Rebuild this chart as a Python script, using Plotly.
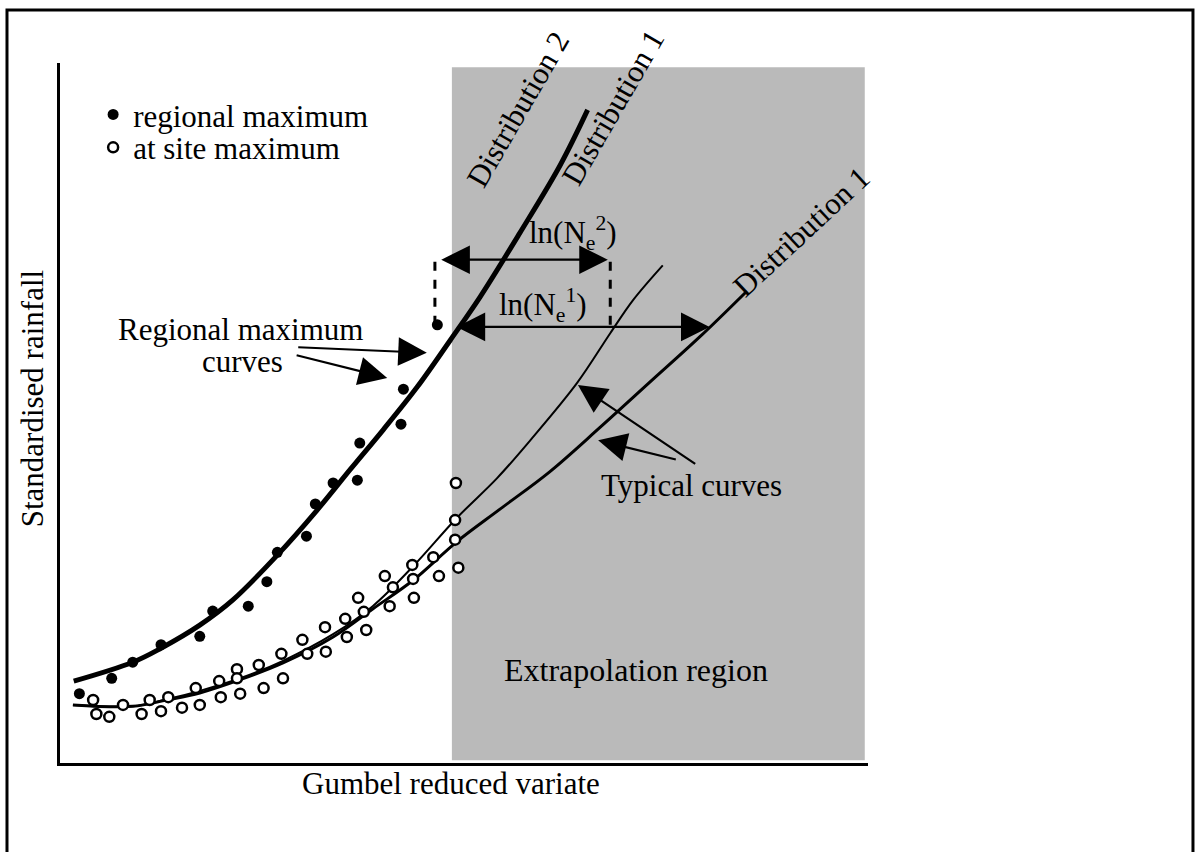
import plotly.graph_objects as go

FONT = "Liberation Serif, Times New Roman, serif"
FS = 31

# ---- data (arbitrary units: Gumbel reduced variate 0-10, standardised rainfall 0-10) ----
reg_x = [0.24, 0.64, 0.90, 1.25, 1.73, 1.89, 2.33, 2.56, 2.69, 3.05, 3.16, 3.38, 3.68, 3.71, 4.22, 4.25, 4.67]
reg_y = [0.99, 1.21, 1.44, 1.69, 1.81, 2.17, 2.24, 2.59, 3.01, 3.24, 3.70, 4.00, 4.04, 4.57, 4.84, 5.34, 6.26]

site_x = [0.41, 0.45, 0.61, 0.78, 1.01, 1.11, 1.25, 1.34, 1.51, 1.68, 1.73, 1.97, 1.99, 2.19, 2.19,
          2.23, 2.46, 2.52, 2.74, 2.76, 3.00, 3.06, 3.28, 3.29, 3.53, 3.55, 3.69, 3.76, 3.79, 4.02,
          4.08, 4.12, 4.36, 4.37, 4.38, 4.62, 4.69, 4.89, 4.89, 4.90, 4.93]
site_y = [0.90, 0.70, 0.66, 0.83, 0.70, 0.90, 0.74, 0.94, 0.79, 1.07, 0.83, 1.17, 0.94, 1.34, 1.21,
          0.99, 1.40, 1.07, 1.56, 1.21, 1.76, 1.56, 1.94, 1.59, 2.06, 1.80, 2.36, 2.16, 1.90, 2.67,
          2.24, 2.51, 2.83, 2.63, 2.36, 2.94, 2.67, 3.47, 3.19, 4.00, 2.79]

regcurve_x = [0.17, 0.90, 1.25, 1.73, 2.14, 2.69, 3.18, 3.59, 4.00, 4.42, 4.83, 5.20, 5.69, 6.19, 6.53]
regcurve_y = [1.17, 1.44, 1.64, 1.97, 2.33, 2.97, 3.61, 4.19, 4.76, 5.37, 6.04, 6.66, 7.57, 8.54, 9.33]

typ2_x = [0.16, 0.90, 1.32, 1.73, 2.23, 2.76, 3.38, 3.87, 4.37, 4.91, 5.41, 5.82, 6.40, 6.81, 7.09, 7.46]
typ2_y = [0.83, 0.81, 0.91, 1.03, 1.21, 1.46, 1.84, 2.24, 2.81, 3.50, 4.07, 4.61, 5.43, 6.14, 6.61, 7.11]

typ1_x = [0.16, 0.90, 1.32, 1.73, 2.23, 2.76, 3.38, 3.87, 4.37, 4.91, 5.45, 6.06, 6.68, 7.30, 7.92, 8.50]
typ1_y = [0.83, 0.81, 0.90, 1.00, 1.19, 1.43, 1.80, 2.20, 2.61, 3.16, 3.63, 4.16, 4.79, 5.44, 6.09, 6.74]

extrap_x = [4.85, 9.96]
extrap_y = [0.04, 9.94]

# return-period spans ln(Ne)
ne2_x = [4.70, 6.78]; ne2_y = 7.19
ne1_x = [4.89, 8.04]; ne1_y = 6.23
bar_x = [4.64, 6.81]; bar_y = [6.26, 7.29]

fig = go.Figure()

fig.add_shape(type="rect", xref="x", yref="y", x0=extrap_x[0], x1=extrap_x[1],
              y0=extrap_y[0], y1=extrap_y[1], fillcolor="rgb(186,186,186)",
              line=dict(width=0), layer="below")

fig.add_trace(go.Scatter(x=regcurve_x, y=regcurve_y, mode="lines", line=dict(color="black", width=5, shape="spline"),
                         showlegend=False, hoverinfo="skip"))
fig.add_trace(go.Scatter(x=typ2_x, y=typ2_y, mode="lines", line=dict(color="black", width=2, shape="spline"),
                         showlegend=False, hoverinfo="skip"))
fig.add_trace(go.Scatter(x=typ1_x, y=typ1_y, mode="lines", line=dict(color="black", width=3, shape="spline"),
                         showlegend=False, hoverinfo="skip"))
fig.add_trace(go.Scatter(x=reg_x, y=reg_y, mode="markers", name="regional maximum", legend="legend",
                         marker=dict(color="black", size=11, symbol="circle")))
fig.add_trace(go.Scatter(x=site_x, y=site_y, mode="markers", name="at site maximum", legend="legend2",
                         marker=dict(color="white", size=10, symbol="circle", line=dict(color="black", width=2.5))))

# dashed vertical guides
for bx in bar_x:
    fig.add_shape(type="line", xref="x", yref="y", x0=bx, x1=bx, y0=bar_y[0], y1=bar_y[1],
                  line=dict(color="black", width=3, dash="dash"))

ann = []
def arrow(x_tip, y_tip, x_tail, y_tail, double=False):
    ann.append(dict(x=x_tip, y=y_tip, ax=x_tail, ay=y_tail, xref="x", yref="y", axref="x", ayref="y",
                    text="", showarrow=True, arrowhead=2, arrowsize=2.6, arrowwidth=2.2, arrowcolor="black",
                    arrowside="end+start" if double else "end"))

arrow(ne2_x[1], ne2_y, ne2_x[0], ne2_y, double=True)
arrow(ne1_x[1], ne1_y, ne1_x[0], ne1_y, double=True)
arrow(4.54, 5.86, 2.93, 5.94)
arrow(4.05, 5.50, 2.91, 5.83)
arrow(6.41, 5.40, 7.88, 4.26)
arrow(6.66, 4.61, 7.64, 4.33)

def text(x, y, s, angle=0, size=FS, xref="x", yref="y", xanchor="center"):
    ann.append(dict(x=x, y=y, xref=xref, yref=yref, text=s, showarrow=False, textangle=angle,
                    font=dict(family=FONT, size=size, color="black"), xanchor=xanchor, yanchor="middle"))

text(5.67, 9.33, "Distribution 2", angle=-60)
text(6.84, 9.37, "Distribution 1", angle=-60)
text(9.18, 7.59, "Distribution 1", angle=-43)
text(6.35, 7.57, "ln(N<sub>e</sub><sup>2</sup>)")
text(5.98, 6.54, "ln(N<sub>e</sub><sup>1</sup>)")
text(2.24, 6.20, "Regional maximum")
text(2.26, 5.74, "curves")
text(7.81, 3.97, "Typical curves")
text(7.13, 1.33, "Extrapolation region", size=32)
text(0.484, -0.0286, "Gumbel reduced variate", xref="paper", yref="paper")
text(-0.0347, 0.521, "Standardised rainfall", angle=-90, xref="paper", yref="paper")

# outer frame
fig.add_shape(type="rect", xref="paper", yref="paper", x0=-0.0656, x1=1.4022, y0=-0.14, y1=1.0757,
              line=dict(color="black", width=3), fillcolor="rgba(0,0,0,0)")

leg_common = dict(xanchor="left", yanchor="middle", bgcolor="rgba(0,0,0,0)",
                  font=dict(family=FONT, size=FS), itemwidth=30, tracegroupgap=0)

fig.update_layout(
    width=1200, height=852,
    margin=dict(l=60, r=332, t=63, b=89),
    paper_bgcolor="white", plot_bgcolor="white",
    font=dict(family=FONT, size=FS, color="black"),
    annotations=ann,
    showlegend=True,
    legend=dict(x=0.041, y=0.926, **leg_common),
    legend2=dict(x=0.041, y=0.879, **leg_common),
    xaxis=dict(range=[0, 10], showline=True, linecolor="black", linewidth=3, showgrid=False,
               zeroline=False, showticklabels=False, ticks=""),
    yaxis=dict(range=[0, 10], showline=True, linecolor="black", linewidth=3, showgrid=False,
               zeroline=False, showticklabels=False, ticks=""),
)

fig.write_html("out.html")
